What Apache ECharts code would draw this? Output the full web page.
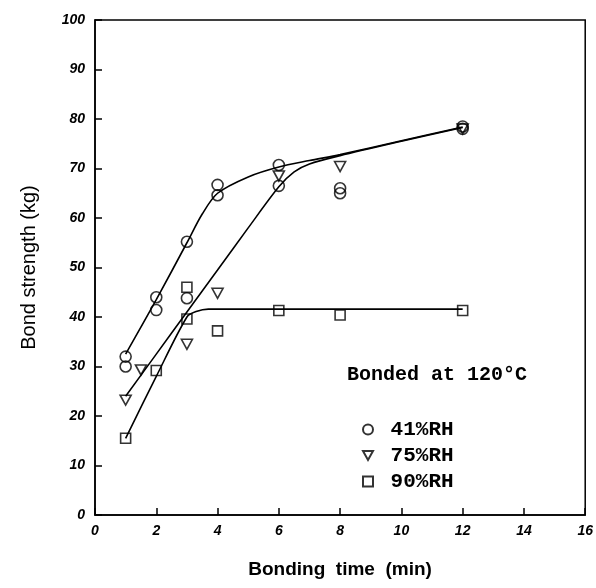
<!DOCTYPE html>
<html>
<head>
<meta charset="utf-8">
<script src="https://cdn.jsdelivr.net/npm/echarts@6/dist/echarts.min.js"></script>
<style>
html,body{margin:0;padding:0;background:#fff;}
#chart{width:596px;height:588px;}
</style>
</head>
<body>
<div id="chart"></div>
<script>
// ---- data ----
const xTicks = [0, 2, 4, 6, 8, 10, 12, 14, 16];
const yTicks = [0, 10, 20, 30, 40, 50, 60, 70, 80, 90, 100];

const seriesNames = ['41%RH', '75%RH', '90%RH'];

const t41 = [1, 1, 2, 2, 3, 3, 4, 4, 6, 6, 8, 8, 12, 12];
const v41 = [32, 30, 44, 41.4, 55.2, 43.8, 66.7, 64.6, 70.7, 66.5, 66, 65, 78.5, 78];

const t75 = [1, 1.5, 3, 4, 6, 8, 12];
const v75 = [23.2, 29.3, 34.5, 44.8, 68.5, 70.4, 78];

const t90 = [1, 2, 3, 3, 4, 6, 8, 12];
const v90 = [15.5, 29.2, 39.6, 46, 37.2, 41.3, 40.4, 41.3];

// fitted curves
const fitT41 = [1, 2, 3, 3.5, 4, 5, 6, 7, 8, 10, 12];
const fitV41 = [32.5, 43.5, 55, 60.8, 65, 68.3, 70.3, 71.6, 72.8, 75.6, 78.4];

const fitT75 = [1, 2, 3, 4, 5, 6, 6.5, 7, 8, 10, 12];
const fitV75 = [24, 32.5, 41, 49.5, 58, 66.3, 69.3, 70.9, 72.6, 75.5, 78.3];

const fitT90 = [1, 2, 3, 3.3, 3.7, 5, 8, 12];
const fitV90 = [15.5, 28, 40, 41.1, 41.6, 41.6, 41.6, 41.6];

const annotation = 'Bonded at 120°C';
const xTitle = 'Bonding  time  (min)';
const yTitle = 'Bond strength (kg)';

const zip = (a, b) => a.map((v, i) => [v, b[i]]);

const markerStyle = { color: 'rgba(255,255,255,0)', borderColor: '#000', borderWidth: 1.6 };
const fitStyle = { color: '#000', width: 1.6 };
const triDown = 'path://M0,0 L10,0 L5,9 Z';

const chart = echarts.init(document.getElementById('chart'), null, { renderer: 'canvas' });
chart.setOption({
  animation: false,
  backgroundColor: '#fff',
  grid: { left: 95, top: 20, right: 9, bottom: 73, show: true, borderColor: '#000', borderWidth: 1.5, backgroundColor: 'transparent' },
  title: {
    text: annotation, left: 342, top: 360,
    textStyle: { fontFamily: 'Liberation Mono', fontWeight: 'bold', fontSize: 20, color: '#000' }
  },
  legend: {
    data: [
      { name: seriesNames[0], icon: 'circle' },
      { name: seriesNames[1], icon: triDown },
      { name: seriesNames[2], icon: 'rect' }
    ],
    orient: 'vertical', left: 357, top: 414,
    itemWidth: 10, itemHeight: 10, itemGap: 5,
    formatter: n => ' ' + n,
    textStyle: { fontFamily: 'Liberation Mono', fontWeight: 'bold', fontSize: 21, color: '#000' },
    selectedMode: false
  },
  xAxis: {
    type: 'value', min: 0, max: 16, interval: 2,
    name: xTitle, nameLocation: 'middle', nameGap: 45,
    nameTextStyle: { fontFamily: 'Liberation Sans', fontWeight: 'bold', fontSize: 19, color: '#000' },
    axisLine: { lineStyle: { color: '#000', width: 1.5 } },
    axisTick: { inside: true, length: 7, lineStyle: { color: '#000', width: 1.5 } },
    splitLine: { show: false },
    axisLabel: { color: '#000', fontFamily: 'Liberation Sans', fontWeight: 'bold', fontStyle: 'italic', fontSize: 14, margin: 9,
      formatter: v => xTicks.includes(v) ? String(v) : '' }
  },
  yAxis: {
    type: 'value', min: 0, max: 100, interval: 10,
    name: yTitle, nameLocation: 'middle', nameGap: 56, nameRotate: 90,
    nameTextStyle: { fontFamily: 'Liberation Sans', fontSize: 20, color: '#000' },
    axisLine: { lineStyle: { color: '#000', width: 1.5 } },
    axisTick: { inside: true, length: 7, lineStyle: { color: '#000', width: 1.5 } },
    splitLine: { show: false },
    axisLabel: { color: '#000', fontFamily: 'Liberation Sans', fontWeight: 'bold', fontStyle: 'italic', fontSize: 14, margin: 10,
      formatter: v => yTicks.includes(v) ? String(v) : '' }
  },
  series: [
    { name: 'fit41', type: 'line', data: zip(fitT41, fitV41), smooth: 0.3, showSymbol: false, lineStyle: fitStyle, z: 2 },
    { name: 'fit75', type: 'line', data: zip(fitT75, fitV75), smooth: 0.3, showSymbol: false, lineStyle: fitStyle, z: 2 },
    { name: 'fit90', type: 'line', data: zip(fitT90, fitV90), smooth: 0.3, showSymbol: false, lineStyle: fitStyle, z: 2 },
    { name: seriesNames[0], type: 'scatter', data: zip(t41, v41), symbol: 'circle', symbolSize: 11, itemStyle: markerStyle, z: 3 },
    { name: seriesNames[1], type: 'scatter', data: zip(t75, v75), symbol: triDown, symbolSize: [11, 10], itemStyle: markerStyle, z: 3 },
    { name: seriesNames[2], type: 'scatter', data: zip(t90, v90), symbol: 'rect', symbolSize: 10, itemStyle: markerStyle, z: 3 }
  ]
});
</script>
</body>
</html>
